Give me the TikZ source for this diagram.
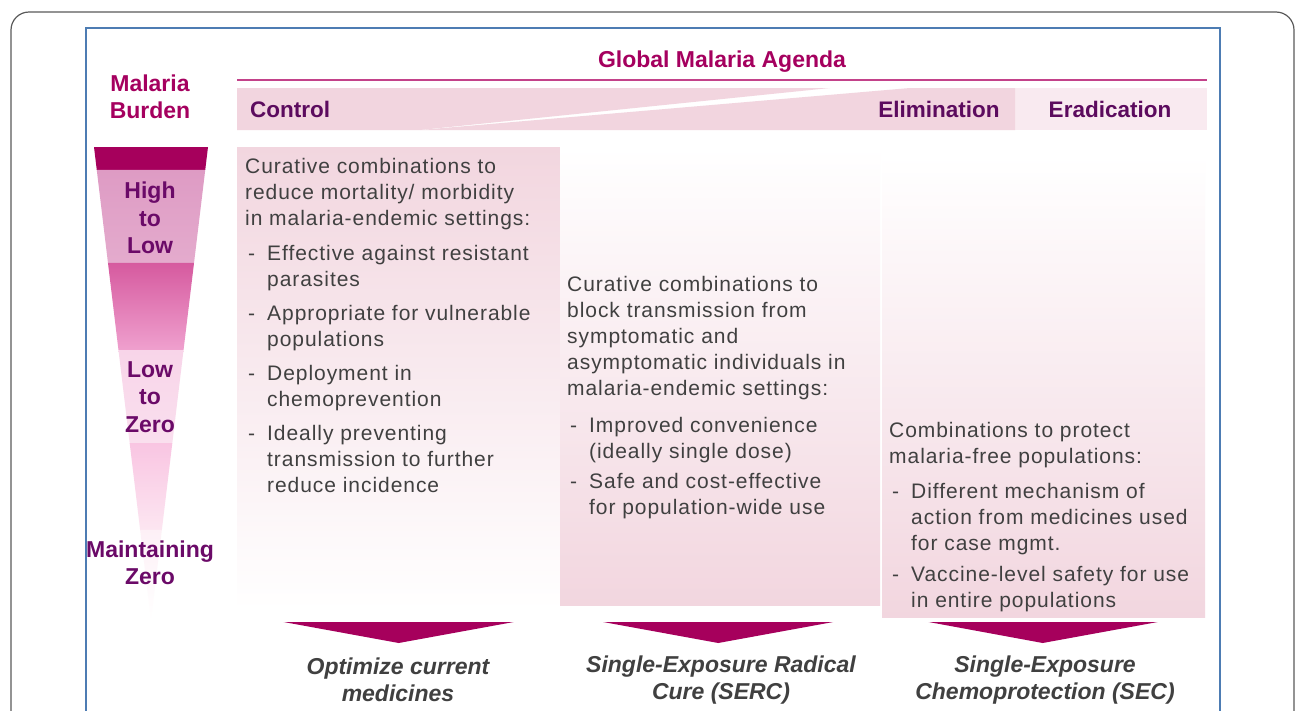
\documentclass[tikz,border=0pt]{standalone}
\usepackage{fontspec}
\setmainfont{Liberation Sans}
\newfontfamily\bodyfamily[LetterSpace=4.5]{Liberation Sans}
\usepackage{tikz}
\usetikzlibrary{calc,positioning}

\definecolor{burdenmag}{HTML}{A5005F}
\definecolor{phasepurple}{HTML}{5C0B5E}
\definecolor{levelpurple}{HTML}{6B0A68}
\definecolor{bodygray}{HTML}{404040}
\definecolor{bandpink}{HTML}{F2D5DF}
\definecolor{bandlight}{HTML}{F9EAF0}
\definecolor{colpink}{HTML}{F2D6DF}
\definecolor{chevronmag}{HTML}{A6005C}
\definecolor{framegray}{HTML}{5A5A5A}
\definecolor{frameblue}{HTML}{4D7CB3}
\definecolor{agendaline}{HTML}{C3428A}
\definecolor{funnelA}{HTML}{DE9BC4}
\definecolor{funnelB}{HTML}{E4ABCD}
\definecolor{funnelC}{HTML}{D65A9F}
\definecolor{funnelD}{HTML}{EFA0CE}
\definecolor{funnelE}{HTML}{F8D5E9}
\definecolor{funnelF}{HTML}{FADFEE}
\definecolor{funnelG}{HTML}{F9C5E2}
\definecolor{funnelH}{HTML}{FCE6F1}
\definecolor{funnelI}{HTML}{FDF0F6}

\newcommand{\bodyfont}{\bodyfamily\fontsize{21}{26}\selectfont}
\newcommand{\dashitem}{\makebox[22pt][l]{\hspace{3pt}-}}
\newcommand{\hangin}{\hspace*{22pt}}

\tikzstyle{burdentitle} = [text=burdenmag, font=\fontsize{23}{27}\selectfont\bfseries, align=center, inner sep=0pt]
\tikzstyle{phasetitle} = [text=phasepurple, font=\fontsize{22.5}{27}\selectfont\bfseries, inner sep=0pt]
\tikzstyle{levellabel} = [text=levelpurple, font=\fontsize{23}{27.5}\selectfont\bfseries, align=center, inner sep=0pt]
\tikzstyle{colbox} = [rectangle, inner sep=0pt, anchor=north west]
\tikzstyle{coltext} = [text=bodygray, font=\bodyfont, align=left, inner sep=0pt, anchor=north west]
\tikzstyle{goallabel} = [text=bodygray, font=\fontsize{23}{27}\selectfont\bfseries\itshape, align=center, inner sep=0pt]
\tikzstyle{chevron} = [fill=chevronmag]

\begin{document}
\begin{tikzpicture}[x=1pt, y=-1pt]
	\useasboundingbox (0,0) rectangle (1295,710);
	\clip (0,0) rectangle (1295,710);
	\fill[white] (0,0) rectangle (1295,710);
	% frames
	\draw[framegray, line width=1.2pt, rounded corners=18pt] (11,12) rectangle (1294,750);
	\draw[frameblue, line width=1.3pt] (86,28) rectangle (1220,750);

	% agenda header
	\node[burdentitle] (burden) at (150,97) {Malaria\\Burden};
	\node[burdentitle] (agenda) at (722,62) {Global Malaria Agenda};
	\draw[agendaline, line width=1.5pt] (237,80) -- (1207,80);
	\fill[bandlight] (1015,88) rectangle (1207,130);
	\fill[bandpink] (237,88) -- (830,88) -- (420,130) -- (237,130) -- cycle;
	\fill[bandpink] (420,130) -- (910,88) -- (1015,88) -- (1015,130) -- cycle;
	\node[phasetitle, anchor=west] (control) at (250,109) {Control};
	\node[phasetitle] (elim) at (939,109) {Elimination};
	\node[phasetitle] (erad) at (1110,109) {Eradication};

	% funnel
	\coordinate (ftl) at (94,147);
	\coordinate (ftr) at (208,147);
	\coordinate (tip) at (151,620);
	\fill[chevronmag] (ftl) -- (ftr) -- ($(ftr)!0.0486!(tip)$) -- ($(ftl)!0.0486!(tip)$) -- cycle;
	\shade[top color=funnelA, bottom color=funnelB] ($(ftl)!0.0486!(tip)$) -- ($(ftr)!0.0486!(tip)$) -- ($(ftr)!0.2452!(tip)$) -- ($(ftl)!0.2452!(tip)$) -- cycle;
	\shade[top color=funnelC, bottom color=funnelD] ($(ftl)!0.2452!(tip)$) -- ($(ftr)!0.2452!(tip)$) -- ($(ftr)!0.4292!(tip)$) -- ($(ftl)!0.4292!(tip)$) -- cycle;
	\shade[top color=funnelE, bottom color=funnelF] ($(ftl)!0.4292!(tip)$) -- ($(ftr)!0.4292!(tip)$) -- ($(ftr)!0.6258!(tip)$) -- ($(ftl)!0.6258!(tip)$) -- cycle;
	\shade[top color=funnelG, bottom color=funnelH] ($(ftl)!0.6258!(tip)$) -- ($(ftr)!0.6258!(tip)$) -- ($(ftr)!0.8097!(tip)$) -- ($(ftl)!0.8097!(tip)$) -- cycle;
	\shade[top color=funnelI, bottom color=white] ($(ftl)!0.8097!(tip)$) -- ($(ftr)!0.8097!(tip)$) -- (tip) -- cycle;
	\node[levellabel] (high) at (150,218) {High\\to\\Low};
	\node[levellabel] (low) at (150,397) {Low\\to\\Zero};
	\node[levellabel] (zero) at (150,563) {Maintaining\\Zero};

	% columns
	\node[colbox, top color=colpink, bottom color=white, minimum width=323pt, minimum height=463pt] (col1) at (237,147) {};
	\node[colbox, top color=white, bottom color=colpink, minimum width=320pt, minimum height=458pt] (col2) at (560,147) {};
	\node[colbox, top color=white, bottom color=colpink, minimum width=323pt, minimum height=462pt] (col3) at (882,155) {};

	\node[coltext] (txt1) at (245,158) {Curative combinations to\\
		reduce mortality/ morbidity\\
		in malaria-endemic settings:\\[9pt]
		\dashitem Effective against resistant\\
		\hangin parasites\\[8pt]
		\dashitem Appropriate for vulnerable\\
		\hangin populations\\[8pt]
		\dashitem Deployment in\\
		\hangin chemoprevention\\[8pt]
		\dashitem Ideally preventing\\
		\hangin transmission to further\\
		\hangin reduce incidence};
	\node[coltext] (txt2) at (567,276) {Curative combinations to\\
		block transmission from\\
		symptomatic and\\
		asymptomatic individuals in\\
		malaria-endemic settings:\\[11pt]
		\dashitem Improved convenience\\
		\hangin (ideally single dose)\\[4pt]
		\dashitem Safe and cost-effective\\
		\hangin for population-wide use};
	\node[coltext] (txt3) at (889,422) {Combinations to protect\\
		malaria-free populations:\\[9pt]
		\dashitem Different mechanism of\\
		\hangin action from medicines used\\
		\hangin for case mgmt.\\[5pt]
		\dashitem Vaccine-level safety for use\\
		\hangin in entire populations};

	% goals
	\coordinate (chevtop) at (0,622);
	\node[goallabel] (goal1) at (398,680) {Optimize current\\medicines};
	\node[goallabel] (goal2) at (721,680) {Single-Exposure Radical\\Cure (SERC)};
	\node[goallabel] (goal3) at (1045,680) {Single-Exposure\\Chemoprotection (SEC)};
	\fill[chevron] ($(col1.south |- chevtop)+(-115,0)$) -- ($(col1.south |- chevtop)+(115,0)$) -- ($(col1.south |- chevtop)+(0,21)$) -- cycle;
	\fill[chevron] ($(col2.south |- chevtop)+(-117,0)$) -- ($(col2.south |- chevtop)+(113,0)$) -- ($(col2.south |- chevtop)+(-2,21)$) -- cycle;
	\fill[chevron] ($(col3.south |- chevtop)+(-115,0)$) -- ($(col3.south |- chevtop)+(114,0)$) -- ($(col3.south |- chevtop)+(-1,21)$) -- cycle;
\end{tikzpicture}
\end{document}
